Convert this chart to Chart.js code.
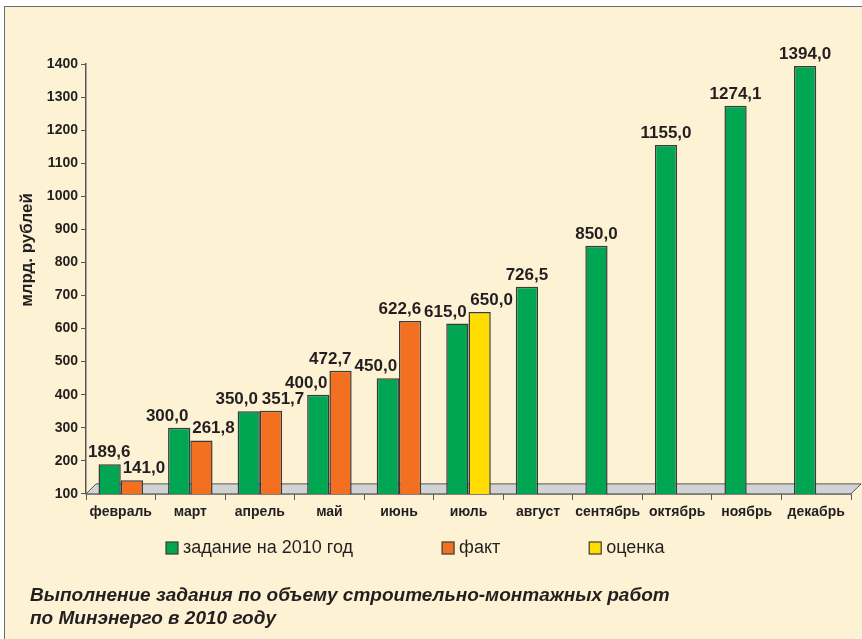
<!DOCTYPE html>
<html><head><meta charset="utf-8">
<script src="https://cdn.jsdelivr.net/npm/chart.js@4.4.0/dist/chart.umd.min.js"></script>
<style>
html,body{margin:0;padding:0;background:#fff;width:862px;height:639px;overflow:hidden;}
#frame{position:absolute;left:4px;top:6px;width:858px;height:633px;background:#fdf2d4;border-left:1.5px solid #6d6e71;border-top:1.5px solid #6d6e71;box-sizing:border-box;}
#c{position:absolute;left:0;top:0;}
</style></head><body>
<div id="frame"></div>
<canvas id="c" width="862" height="639"></canvas>
<script>
// ---- data ----
const categories = ['февраль','март','апрель','май','июнь','июль','август','сентябрь','октябрь','ноябрь','декабрь'];
const planValues = [189.6, 300.0, 350.0, 400.0, 450.0, 615.0, 726.5, 850.0, 1155.0, 1274.1, 1394.0];
const factValues = [141.0, 261.8, 351.7, 472.7, 622.6, null, null, null, null, null, null];
const estimateValues = [null, null, null, null, null, 650.0, null, null, null, null, null];
const seriesNames = ['задание на 2010 год', 'факт', 'оценка'];
const yMin = 100, yMax = 1400, yStep = 100;
const yAxisTitle = 'млрд. рублей';
const captionLines = ['Выполнение задания по объему строительно-монтажных работ', 'по Минэнерго в 2010 году'];

// ---- styles ----
const FONT = "'Liberation Sans', Arial, Helvetica, sans-serif";
const TEXT = '#231f20';
const GREEN = '#00a651', ORANGE = '#f37021', YELLOW = '#ffdd00';
const EDGE = '#3a3a3a';

Chart.defaults.font.family = FONT;
Chart.defaults.color = TEXT;

const fmt = v => v.toFixed(1).replace('.', ',');

const floorPlugin = {
  id: 'floor',
  beforeDatasetsDraw(chart) {
    const {ctx, chartArea: a} = chart;
    const d = 10;
    ctx.save();
    ctx.beginPath();
    ctx.moveTo(a.left, a.bottom);
    ctx.lineTo(a.right, a.bottom);
    ctx.lineTo(a.right + d, a.bottom - d);
    ctx.lineTo(a.left + d, a.bottom - d);
    ctx.closePath();
    ctx.fillStyle = '#d1d3d4';
    ctx.fill();
    ctx.lineWidth = 1;
    ctx.strokeStyle = '#555';
    ctx.stroke();
    ctx.restore();
  }
};

// value labels above bars; pairs are spread apart, collisions are resolved.
const valueLabels = {
  id: 'valueLabels',
  afterDatasetsDraw(chart) {
    const {ctx, chartArea} = chart;
    ctx.save();
    ctx.font = 'bold 17px ' + FONT;
    ctx.fillStyle = TEXT;
    ctx.textAlign = 'center';
    ctx.textBaseline = 'alphabetic';
    const items = [];
    chart.data.datasets.forEach((ds, di) => {
      const meta = chart.getDatasetMeta(di);
      meta.data.forEach((el, i) => {
        const v = ds.data[i];
        if (v === null || v === undefined) return;
        let shift = 0;
        if (di === 0) {
          if (factValues[i] !== null || estimateValues[i] !== null) shift = -12;
        } else if (planValues[i] !== null) {
          shift = 12;
        }
        const text = fmt(v);
        const w = ctx.measureText(text).width;
        const base = el.y - 7;
        items.push({text, cx: el.x + shift, w, base, top: base - 13});
      });
    });
    items.sort((a, b) => a.cx - b.cx);
    const overlapV = (a, b) => a.top < b.base && b.top < a.base;
    // push left when colliding with a label on the right
    for (let k = items.length - 2; k >= 0; k--) {
      const a = items[k];
      for (let j = k + 1; j < items.length; j++) {
        const b = items[j];
        if (overlapV(a, b) && a.cx + a.w / 2 > b.cx - b.w / 2 - 3) {
          a.cx = b.cx - b.w / 2 - 3 - a.w / 2;
        }
      }
    }
    // keep inside the plot on the left, then push right if needed
    items.forEach(it => {
      const minCx = chartArea.left + 2 + it.w / 2;
      if (it.cx < minCx) it.cx = minCx;
    });
    for (let k = 1; k < items.length; k++) {
      const b = items[k];
      for (let j = 0; j < k; j++) {
        const a = items[j];
        if (overlapV(a, b) && a.cx + a.w / 2 > b.cx - b.w / 2 - 3) {
          b.cx = a.cx + a.w / 2 + 3 + b.w / 2;
        }
      }
    }
    items.forEach(it => ctx.fillText(it.text, it.cx, it.base));
    ctx.restore();
  }
};

const yTitlePlugin = {
  id: 'yTitle',
  afterDraw(chart) {
    const {ctx} = chart;
    ctx.save();
    ctx.translate(27, 250);
    ctx.rotate(-Math.PI / 2);
    ctx.font = 'bold 17px ' + FONT;
    ctx.fillStyle = TEXT;
    ctx.textAlign = 'center';
    ctx.textBaseline = 'middle';
    ctx.fillText(yAxisTitle, 0, 0);
    ctx.restore();
  }
};

const legendPlugin = {
  id: 'customLegend',
  afterDraw(chart) {
    const {ctx} = chart;
    ctx.save();
    ctx.font = '18px ' + FONT;
    ctx.textBaseline = 'middle';
    ctx.textAlign = 'left';
    let x = 166;
    const y = 548;
    chart.data.datasets.forEach(ds => {
      ctx.fillStyle = ds.backgroundColor;
      ctx.fillRect(x, y - 6, 12, 12);
      ctx.lineWidth = 1.2;
      ctx.strokeStyle = EDGE;
      ctx.strokeRect(x, y - 6, 12, 12);
      ctx.fillStyle = TEXT;
      ctx.fillText(ds.label, x + 17, y);
      x += 17 + ctx.measureText(ds.label).width + 89;
    });
    ctx.restore();
  }
};

const barCommon = {borderColor: EDGE, borderWidth: 1.5, borderSkipped: false, categoryPercentage: 0.64, barPercentage: 1.0};

new Chart(document.getElementById('c'), {
  type: 'bar',
  data: {
    labels: categories,
    datasets: [
      Object.assign({label: seriesNames[0], data: planValues, backgroundColor: GREEN, stack: 'plan'}, barCommon),
      Object.assign({label: seriesNames[1], data: factValues, backgroundColor: ORANGE, stack: 'done'}, barCommon),
      Object.assign({label: seriesNames[2], data: estimateValues, backgroundColor: YELLOW, stack: 'done'}, barCommon)
    ]
  },
  options: {
    responsive: false,
    animation: false,
    devicePixelRatio: 1,
    layout: {padding: {top: 64, left: 30, right: 11, bottom: 8}},
    plugins: {
      legend: {display: false},
      tooltip: {enabled: false},
      title: {
        display: true,
        position: 'bottom',
        align: 'start',
        text: captionLines,
        color: TEXT,
        font: {family: FONT, size: 19, weight: 'bold', style: 'italic', lineHeight: 1.24},
        padding: {top: 65, bottom: 0}
      }
    },
    scales: {
      x: {
        grid: {drawOnChartArea: false, offset: true, tickLength: 6, color: '#555', lineWidth: 1},
        border: {color: '#444', width: 1.5},
        ticks: {font: {size: 14, weight: 'bold'}, color: TEXT, padding: 4, maxRotation: 0, autoSkip: false},
        afterFit(s) { s.height = 25; }
      },
      y: {
        stacked: false,
        min: yMin, max: yMax,
        grid: {drawOnChartArea: false, tickLength: 5, color: '#555', lineWidth: 1},
        border: {color: '#555', width: 1.5},
        ticks: {stepSize: yStep, font: {size: 14, weight: 'bold'}, color: TEXT, padding: 3,
                callback: v => String(v)},
        afterFit(s) { s.width = 56; }
      }
    }
  },
  plugins: [floorPlugin, valueLabels, yTitlePlugin, legendPlugin]
});
</script>
</body></html>
